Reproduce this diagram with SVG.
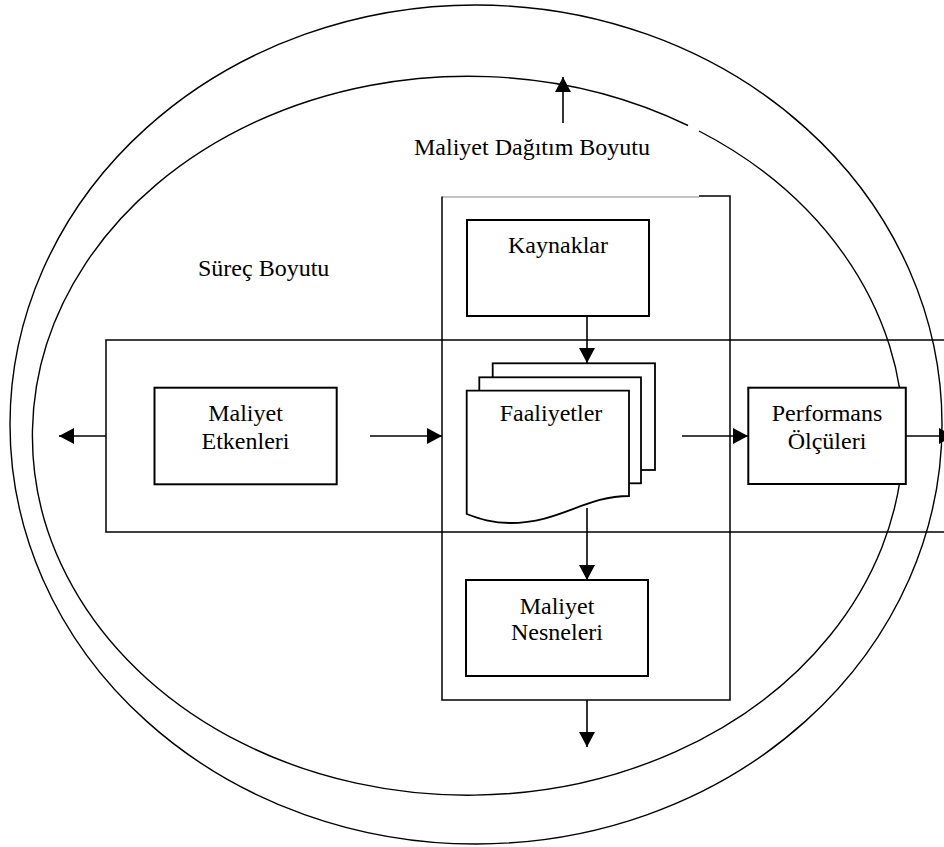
<svg xmlns="http://www.w3.org/2000/svg" width="944" height="847" viewBox="0 0 944 847">
<defs>
<style>
.ell{fill:none;stroke:#000;stroke-width:1.4}
.frame{fill:none;stroke:#000;stroke-width:1.5}
.box{fill:#fff;stroke:#000;stroke-width:2}
.page{fill:#fff;stroke:#000;stroke-width:1.8}
.conn{fill:none;stroke:#000;stroke-width:1.6}
text{font-family:"Liberation Serif","Times New Roman",serif;font-size:24px;fill:#000}
.c{text-anchor:middle}
</style>
<marker id="ah" markerUnits="userSpaceOnUse" markerWidth="16" markerHeight="16" refX="15" refY="8" orient="auto">
<path d="M0,0 L15,8 L0,16 z" fill="#000"/>
</marker>
</defs>
<rect width="944" height="847" fill="#fff"/>

<g id="outer-ellipse">
<ellipse class="ell" cx="476" cy="424.5" rx="466" ry="419.5"/>
</g>
<g id="inner-ellipse">
<path class="ell" d="M699,131 A435.5,359.5 0 1 1 688,125.5"/>
</g>

<g id="surec-boyutu">
<path class="frame" d="M950,340 H106 V532 H950"/>
<text x="198" y="276">Süreç Boyutu</text>
</g>

<g id="maliyet-dagitim-boyutu">
<line x1="442" y1="197" x2="699" y2="197" stroke="#888" stroke-width="1.2"/>
<path class="frame" d="M699,196 H730 V700 H442 V196.5"/>
<text x="414" y="155">Maliyet Dağıtım Boyutu</text>
</g>

<g id="kaynaklar">
<rect class="box" x="467" y="220" width="182" height="96"/>
<text class="c" x="558" y="253">Kaynaklar</text>
</g>

<g id="faaliyetler">
<rect class="page" x="492.7" y="363.3" width="162.3" height="106.7"/>
<rect class="page" x="479.3" y="377.3" width="161.7" height="106"/>
<path class="page" d="M466.7,390.7 H629 V496 C585,496 560,523 510,523 C492,523 480,519 466.7,514 Z"/>
<text class="c" x="551" y="421">Faaliyetler</text>
</g>

<g id="maliyet-etkenleri">
<rect class="box" x="154.5" y="387.7" width="182.2" height="96.6"/>
<text class="c" x="245.5" y="421">Maliyet</text>
<text class="c" x="245.5" y="448.5">Etkenleri</text>
</g>

<g id="performans-olculeri">
<rect class="box" x="748.3" y="387.7" width="157.5" height="96.3"/>
<text class="c" x="827" y="421">Performans</text>
<text class="c" x="827" y="448.5">Ölçüleri</text>
</g>

<g id="maliyet-nesneleri">
<rect class="box" x="466" y="580" width="182" height="96"/>
<text class="c" x="557" y="613.5">Maliyet</text>
<text class="c" x="557" y="640">Nesneleri</text>
</g>

<g id="connectors">
<line class="conn" x1="563" y1="123" x2="563" y2="77" marker-end="url(#ah)"/>
<line class="conn" x1="587" y1="316" x2="587" y2="363" marker-end="url(#ah)"/>
<line class="conn" x1="587" y1="508" x2="587" y2="580" marker-end="url(#ah)"/>
<line class="conn" x1="587" y1="700" x2="587" y2="747" marker-end="url(#ah)"/>
<line class="conn" x1="106" y1="436" x2="59" y2="436" marker-end="url(#ah)"/>
<line class="conn" x1="370" y1="436" x2="442" y2="436" marker-end="url(#ah)"/>
<line class="conn" x1="682" y1="436" x2="748" y2="436" marker-end="url(#ah)"/>
<line class="conn" x1="906" y1="436" x2="954" y2="436" marker-end="url(#ah)"/>
</g>
</svg>
